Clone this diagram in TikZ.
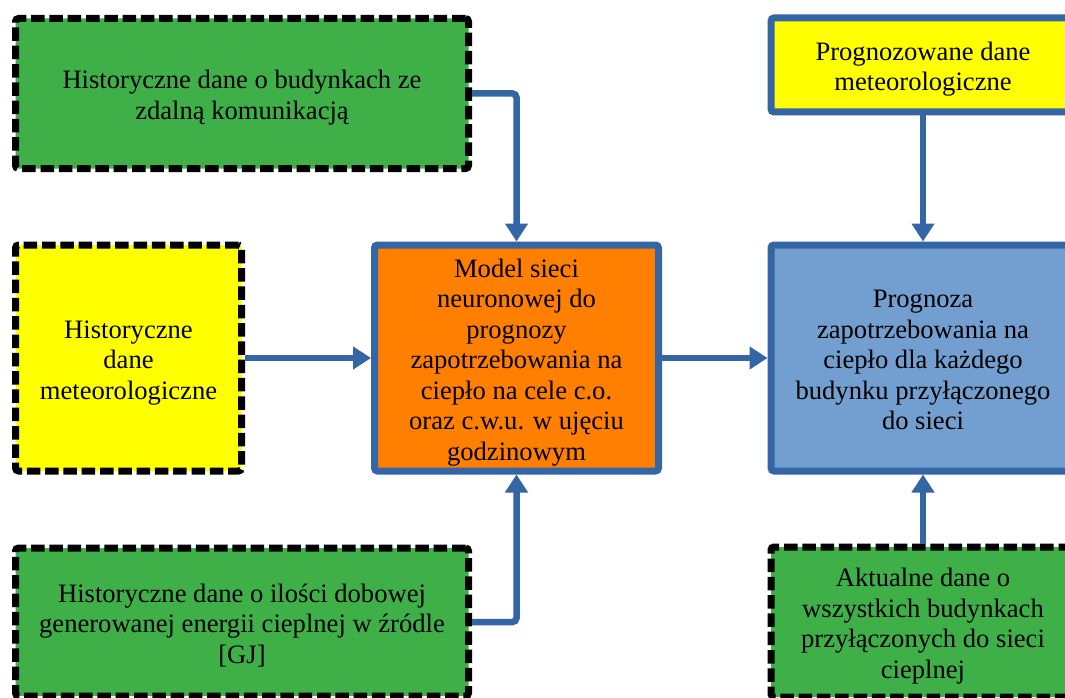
\documentclass[tikz,border=0pt]{standalone}
\usepackage{fontspec}
\setmainfont{Liberation Serif}
\usetikzlibrary{arrows.meta}
\definecolor{bgreen}{RGB}{63,175,72}
\definecolor{byellow}{RGB}{255,255,0}
\definecolor{borange}{RGB}{255,128,0}
\definecolor{bfill}{RGB}{114,159,207}
\definecolor{bline}{RGB}{52,101,164}
\newcommand{\tstr}{\rule{0pt}{29pt}}
\newcommand{\bstr}{\rule[-8pt]{0pt}{8pt}}
\tikzset{
  box/.style={rectangle, inner sep=0pt, align=center, line width=7pt,
    font=\fontsize{26.6}{30.5}\selectfont},
  dashbox/.style={box, draw=black, dash pattern=on 13.5pt off 4.8pt, rounded corners=3pt},
  solidbox/.style={box, draw=bline, rounded corners=3pt},
  conn/.style={draw=bline, line width=6.5pt, rounded corners=4pt,
    -{Triangle[width=22pt,length=18pt]}}
}
\begin{document}
\begin{tikzpicture}[x=1pt,y=-1pt]
\clip (0,0) rectangle (1065,698);
\fill[white] (0,0) rectangle (1065,698);
\node[dashbox, fill=bgreen, minimum width=453pt, minimum height=150pt] (tl) at (242,93.5)
  {\tstr Historyczne dane o budynkach ze\\zdalną komunikacją\bstr};
\node[dashbox, fill=byellow, minimum width=226pt, minimum height=226pt] (ml) at (128.5,358)
  {\tstr Historyczne\\dane\\meteorologiczne\bstr};
\node[dashbox, fill=bgreen, minimum width=453pt, minimum height=148pt] (bl) at (242,622)
  {\tstr Historyczne dane o ilości dobowej\\generowanej energii cieplnej w źródle\\{[GJ]}\bstr};
\node[solidbox, fill=borange, minimum width=284pt, minimum height=226pt] (model) at (516.5,358)
  {\tstr Model sieci\\neuronowej do\\prognozy\\zapotrzebowania na\\ciepło na cele c.o.\\oraz c.w.u. w ujęciu\\godzinowym\bstr};
\node[solidbox, fill=byellow, minimum width=304pt, minimum height=94pt] (tr) at (923,65)
  {\tstr Prognozowane dane\\meteorologiczne\bstr};
\node[solidbox, fill=bfill, minimum width=304pt, minimum height=226pt] (prog) at (923,358)
  {\tstr Prognoza\\zapotrzebowania na\\ciepło dla każdego\\budynku przyłączonego\\do sieci\bstr};
\node[dashbox, fill=bgreen, minimum width=304pt, minimum height=150pt] (br) at (923,622)
  {\tstr Aktualne dane o\\wszystkich budynkach\\przyłączonych do sieci\\cieplnej\bstr};
\draw[conn] (tl.east) -| (model.north);
\draw[conn] (bl.east) -| (model.south);
\draw[conn] (ml.east) -- (model.west);
\draw[conn] (model.east) -- (prog.west);
\draw[conn] (tr.south) -- (prog.north);
\draw[conn] (br.north) -- (prog.south);
\end{tikzpicture}
\end{document}
